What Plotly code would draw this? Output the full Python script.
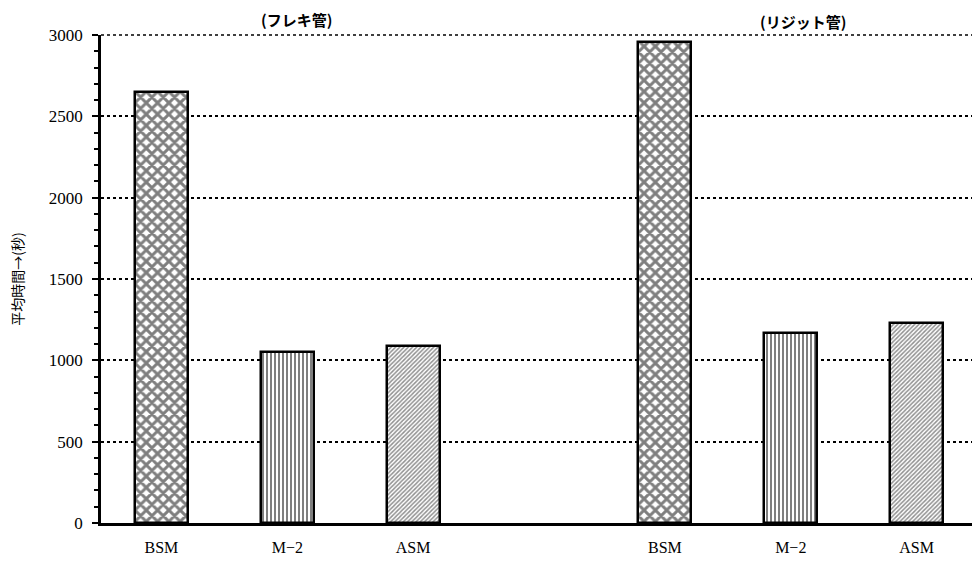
import plotly.graph_objects as go

categories = ["BSM", "M−2", "ASM", "BSM", "M−2", "ASM"]
slots = [0, 1, 2, 4, 5, 6]
values = [2650, 1050, 1090, 2960, 1170, 1230]
group_titles = ["(フレキ管)", "(リジット管)"]
group_centers = [1.07, 5.1]
y_ticks = [0, 500, 1000, 1500, 2000, 2500, 3000]
y_max = 3000

shapes = ["x", "|", "/", "x", "|", "/"]
fgcolors = ["black", "black", "#222222", "black", "black", "#222222"]
sizes = [8, 4, 3, 8, 4, 3]
solid = [0.6, 0.5, 0.5, 0.6, 0.5, 0.5]

fig = go.Figure()
fig.add_trace(go.Bar(
    x=slots, y=values, width=0.42,
    marker=dict(
        color="white",
        line=dict(color="black", width=2.5),
        pattern=dict(shape=shapes, fgcolor=fgcolors, bgcolor="white",
                     size=sizes, solidity=solid, fillmode="overlay"),
    ),
    showlegend=False,
))

for t, c, dy in zip(group_titles, group_centers, [16, 14]):
    fig.add_annotation(x=c, y=1.0, xref="x", yref="paper", yshift=dy,
                       yanchor="middle", xanchor="center",
                       text="<b>" + t + "</b>", showarrow=False,
                       font=dict(family="Noto Sans CJK JP", size=15, color="black"))

# top grid line at the axis maximum (plotly skips the grid line at the range edge)
fig.add_shape(type="line", xref="paper", yref="paper", x0=0, x1=1, y0=1, y1=1,
              line=dict(color="black", width=1.5, dash="dot"), layer="below")

fig.update_layout(
    width=972, height=561,
    margin=dict(l=101, r=0, t=35, b=38),
    paper_bgcolor="white", plot_bgcolor="white",
    bargap=0,
)
fig.update_xaxes(
    range=[-0.48, 6.44], automargin=False,
    tickmode="array", tickvals=slots, ticktext=categories,
    showgrid=False, zeroline=False,
    showline=True, linecolor="black", linewidth=2.5,
    ticks="", ticklabelstandoff=8,
    tickfont=dict(family="Liberation Serif", size=16, color="black"),
)
fig.update_yaxes(
    range=[0, y_max], automargin=False,
    tickmode="array", tickvals=y_ticks,
    showline=True, linecolor="black", linewidth=2.5,
    ticks="outside", ticklen=6, tickwidth=2, tickcolor="black",
    minor=dict(ticks="outside", dtick=100, ticklen=4, tickwidth=2, tickcolor="black", showgrid=False),
    showgrid=True, gridcolor="black", gridwidth=1.5, griddash="dot",
    zeroline=False, ticklabelstandoff=6,
    tickfont=dict(family="Liberation Serif", size=17, color="black"),
    title=dict(text="平均時間→(秒)", standoff=22,
               font=dict(family="Noto Sans CJK JP", size=14, color="black")),
)

fig.write_html("out.html", config={"displayModeBar": False},
               post_script="document.body.style.margin='0';")
